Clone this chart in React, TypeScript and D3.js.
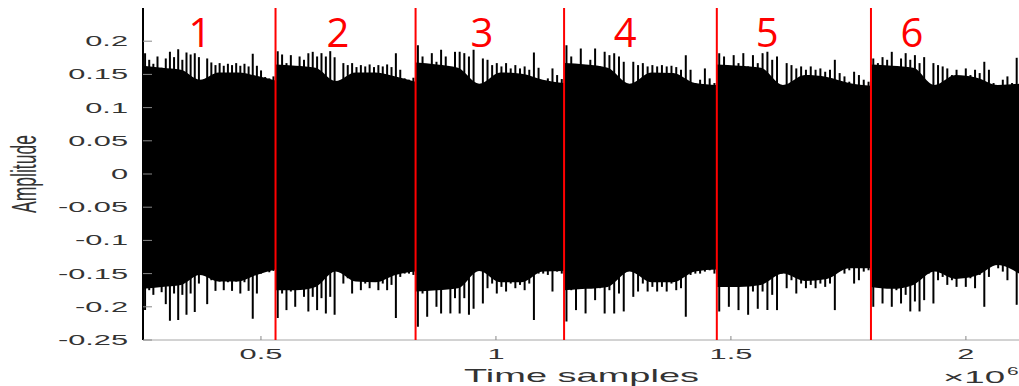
import React from "react";
import * as d3 from "d3";

// time axis in units of 1e6 samples
const timeDomain = [0.249, 2.113];
const ampDomain = [-0.25, 0.25];

const xTicks = [0.5, 1, 1.5, 2];
const yTicks = [-0.25, -0.2, -0.15, -0.1, -0.05, 0, 0.05, 0.1, 0.15, 0.2];

// red segment boundaries and segment numbers
const boundaries = [0.531, 0.829, 1.145, 1.47, 1.798];
const segmentLabels = ["1", "2", "3", "4", "5", "6"];
const labelTimes = [0.37, 0.664, 0.97, 1.275, 1.577, 1.885];

// spike peaks per segment, evenly spread in each segment
const upperPeaks = [
  [0.182, 0.172, 0.166, 0.177, 0.16, 0.174, 0.184, 0.176, 0.188, 0.172, 0.183, 0.18, 0.182, 0.176, 0.141, 0.174, 0.168, 0.164, 0.167, 0.163, 0.166, 0.164, 0.167, 0.163, 0.166, 0.162, 0.181, 0.163, 0.156, 0.146, 0.144, 0.147],
  [0.185, 0.18, 0.167, 0.179, 0.162, 0.177, 0.172, 0.182, 0.184, 0.177, 0.182, 0.177, 0.185, 0.176, 0.134, 0.167, 0.164, 0.167, 0.161, 0.164, 0.162, 0.165, 0.161, 0.164, 0.162, 0.165, 0.161, 0.182, 0.157, 0.144, 0.142, 0.145],
  [0.194, 0.177, 0.162, 0.182, 0.169, 0.187, 0.177, 0.159, 0.184, 0.184, 0.182, 0.177, 0.187, 0.129, 0.174, 0.172, 0.164, 0.167, 0.162, 0.167, 0.159, 0.164, 0.159, 0.162, 0.157, 0.183, 0.16, 0.139, 0.144, 0.159, 0.149, 0.143],
  [0.194, 0.177, 0.162, 0.189, 0.162, 0.172, 0.189, 0.162, 0.184, 0.179, 0.182, 0.177, 0.169, 0.13, 0.169, 0.164, 0.167, 0.162, 0.164, 0.162, 0.164, 0.162, 0.163, 0.161, 0.157, 0.179, 0.157, 0.137, 0.142, 0.159, 0.144, 0.137],
  [0.182, 0.177, 0.157, 0.179, 0.167, 0.182, 0.162, 0.179, 0.167, 0.182, 0.184, 0.172, 0.177, 0.131, 0.167, 0.164, 0.159, 0.162, 0.157, 0.162, 0.157, 0.159, 0.154, 0.157, 0.172, 0.152, 0.147, 0.139, 0.154, 0.149, 0.142, 0.139],
  [0.174, 0.167, 0.176, 0.172, 0.184, 0.162, 0.174, 0.182, 0.172, 0.179, 0.167, 0.176, 0.131, 0.167, 0.164, 0.162, 0.159, 0.149, 0.157, 0.147, 0.159, 0.149, 0.157, 0.152, 0.169, 0.157, 0.137, 0.131, 0.142, 0.147, 0.137, 0.175],
];

const lowerPeaks = [
  [-0.205, -0.175, -0.182, -0.16, -0.178, -0.196, -0.221, -0.18, -0.22, -0.182, -0.212, -0.18, -0.208, -0.165, -0.148, -0.196, -0.16, -0.176, -0.162, -0.175, -0.163, -0.176, -0.162, -0.18, -0.163, -0.176, -0.218, -0.18, -0.15, -0.146, -0.148, -0.146],
  [-0.217, -0.18, -0.205, -0.177, -0.2, -0.165, -0.185, -0.207, -0.185, -0.205, -0.187, -0.21, -0.185, -0.212, -0.145, -0.165, -0.157, -0.18, -0.16, -0.175, -0.165, -0.172, -0.162, -0.175, -0.165, -0.175, -0.167, -0.217, -0.155, -0.15, -0.15, -0.152],
  [-0.23, -0.18, -0.215, -0.16, -0.2, -0.21, -0.165, -0.21, -0.187, -0.21, -0.187, -0.212, -0.203, -0.142, -0.195, -0.172, -0.165, -0.18, -0.17, -0.177, -0.165, -0.172, -0.167, -0.175, -0.165, -0.22, -0.15, -0.15, -0.152, -0.177, -0.147, -0.15],
  [-0.222, -0.175, -0.205, -0.16, -0.21, -0.165, -0.19, -0.172, -0.21, -0.175, -0.21, -0.18, -0.207, -0.145, -0.185, -0.177, -0.165, -0.177, -0.17, -0.177, -0.17, -0.177, -0.165, -0.175, -0.172, -0.215, -0.152, -0.15, -0.15, -0.147, -0.145, -0.15],
  [-0.207, -0.17, -0.2, -0.16, -0.205, -0.165, -0.212, -0.177, -0.203, -0.177, -0.205, -0.182, -0.205, -0.15, -0.172, -0.16, -0.18, -0.165, -0.172, -0.167, -0.172, -0.165, -0.17, -0.165, -0.205, -0.145, -0.15, -0.145, -0.165, -0.16, -0.147, -0.145],
  [-0.2, -0.16, -0.195, -0.17, -0.2, -0.175, -0.195, -0.182, -0.207, -0.192, -0.207, -0.19, -0.15, -0.195, -0.16, -0.155, -0.167, -0.16, -0.17, -0.145, -0.17, -0.157, -0.172, -0.152, -0.2, -0.155, -0.137, -0.142, -0.147, -0.16, -0.14, -0.197],
];

// solid core of the waveform, 8 points across each segment
const upperBase = [
  [0.163, 0.16, 0.157, 0.142, 0.153, 0.153, 0.148, 0.141],
  [0.165, 0.163, 0.16, 0.14, 0.153, 0.153, 0.147, 0.139],
  [0.168, 0.165, 0.16, 0.136, 0.153, 0.151, 0.142, 0.137],
  [0.167, 0.165, 0.16, 0.136, 0.153, 0.152, 0.137, 0.134],
  [0.165, 0.163, 0.16, 0.134, 0.149, 0.146, 0.137, 0.133],
  [0.165, 0.163, 0.16, 0.134, 0.149, 0.145, 0.134, 0.136],
];
const lowerBase = [
  [-0.173, -0.17, -0.167, -0.152, -0.162, -0.162, -0.152, -0.144],
  [-0.175, -0.175, -0.17, -0.147, -0.162, -0.163, -0.152, -0.147],
  [-0.177, -0.175, -0.172, -0.146, -0.163, -0.163, -0.147, -0.146],
  [-0.175, -0.173, -0.17, -0.147, -0.163, -0.163, -0.147, -0.144],
  [-0.17, -0.17, -0.167, -0.15, -0.161, -0.158, -0.142, -0.142],
  [-0.17, -0.173, -0.167, -0.147, -0.158, -0.153, -0.137, -0.15],
];

const axisFont = "'Liberation Sans', Arial, Helvetica, sans-serif";
const stretch = 2.05; // the source image is stretched sideways

const fmt = (v: number) => String(+v.toFixed(2));

export default function App() {
  const width = 1019;
  const height = 386;
  const plot = { left: 143, right: 1019, top: 8, bottom: 340 };

  const x = d3.scaleLinear().domain(timeDomain).range([plot.left, plot.right]);
  const y = d3.scaleLinear().domain(ampDomain).range([plot.bottom, plot.top]);

  const starts = [timeDomain[0], ...boundaries];
  const ends = [...boundaries, timeDomain[1]];

  const core = d3
    .area<{ t: number; hi: number; lo: number }>()
    .x((d) => x(d.t))
    .y0((d) => y(d.lo))
    .y1((d) => y(d.hi))
    .curve(d3.curveMonotoneX);

  return (
    <svg
      width={width}
      height={height}
      style={{ position: "absolute", left: 0, top: 0, background: "#fff" }}
    >
      {/* waveform */}
      {starts.map((s, si) => {
        const e = ends[si];
        const base = upperBase[si].map((hi, k) => ({
          t: s + ((e - s) * k) / (upperBase[si].length - 1),
          hi,
          lo: lowerBase[si][k],
        }));
        const n = upperPeaks[si].length;
        return (
          <g key={si}>
            <path d={core(base) || ""} fill="#000" />
            {upperPeaks[si].map((hi, i) => {
              const xt = x(s + ((e - s) * (i + 0.5)) / n);
              return (
                <line
                  key={i}
                  x1={xt}
                  x2={xt}
                  y1={y(lowerPeaks[si][i])}
                  y2={y(hi)}
                  stroke="#000"
                  strokeWidth={2}
                />
              );
            })}
          </g>
        );
      })}

      {/* axes */}
      <line x1={plot.left} x2={plot.right} y1={plot.bottom} y2={plot.bottom} stroke="#a6a6a6" strokeWidth={1} />
      <line x1={plot.left} x2={plot.left} y1={plot.top} y2={plot.bottom} stroke="#000" strokeWidth={2} />
      {xTicks.map((t) => (
        <g key={t}>
          <line x1={x(t)} x2={x(t)} y1={plot.bottom} y2={plot.bottom - 4} stroke="#888" />
          <text
            transform={`translate(${x(t)},${plot.bottom + 19}) scale(${stretch},1)`}
            textAnchor="middle"
            fontFamily={axisFont}
            fontSize={15}
            fill="#333"
          >
            {fmt(t)}
          </text>
        </g>
      ))}
      {yTicks.map((v) => (
        <g key={v}>
          <line x1={plot.left} x2={plot.left + 9} y1={y(v)} y2={y(v)} stroke="#888" />
          <text
            transform={`translate(128,${y(v) + 5}) scale(${stretch},1)`}
            textAnchor="end"
            fontFamily={axisFont}
            fontSize={15}
            fill="#333"
          >
            {fmt(v)}
          </text>
        </g>
      ))}

      {/* axis titles */}
      <text
        transform={`translate(${(465 + 698) / 2},382) scale(2,1)`}
        textAnchor="middle"
        fontFamily={axisFont}
        fontSize={19}
        fill="#333"
      >
        Time samples
      </text>
      <text
        transform={`translate(943,383) scale(2.15,1)`}
        fontFamily={axisFont}
        fontSize={17}
        fill="#333"
      >
        ×10
      </text>
      <text
        transform={`translate(1007,375) scale(1.9,1)`}
        fontFamily={axisFont}
        fontSize={11}
        fill="#333"
      >
        6
      </text>
      <text
        transform={`translate(36,174) scale(2.05,1) rotate(-90)`}
        textAnchor="middle"
        fontFamily={axisFont}
        fontSize={17.5}
        fill="#333"
      >
        Amplitude
      </text>

      {/* segment boundaries and numbers */}
      {boundaries.map((b) => (
        <line key={b} x1={x(b)} x2={x(b)} y1={plot.top} y2={plot.bottom} stroke="#f00" strokeWidth={2} />
      ))}
      {segmentLabels.map((l, i) => (
        <text
          key={l}
          x={x(labelTimes[i])}
          y={47}
          textAnchor="middle"
          fontFamily="'Open Sans', 'Noto Sans', sans-serif"
          fontSize={40}
          fill="#f00"
        >
          {l}
        </text>
      ))}
    </svg>
  );
}
